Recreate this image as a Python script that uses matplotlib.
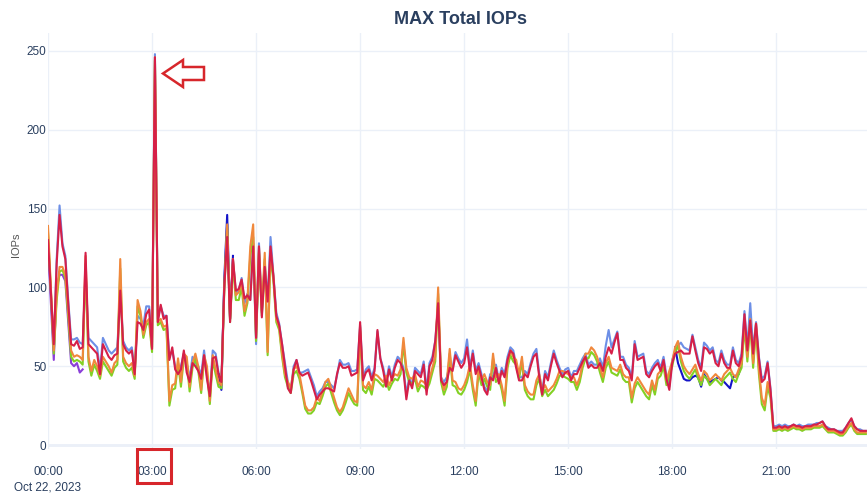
import numpy as np
import pandas as pd
import matplotlib
matplotlib.use('Agg')
import matplotlib.pyplot as plt
import matplotlib.dates as mdates
import matplotlib.ticker as ticker
from matplotlib.patches import Polygon, Rectangle

PLOTLY_TEXT = '#2a3f5f'
GRID = '#ebf0f8'

plt.rcParams.update({
    'font.family': ['Liberation Sans Narrow', 'Liberation Sans', 'DejaVu Sans'],
    'figure.facecolor': 'white',
    'axes.facecolor': 'white',
    'axes.spines.top': False,
    'axes.spines.right': False,
    'axes.spines.left': False,
    'axes.spines.bottom': False,
})

# 5 minute samples, Oct 22 2023 00:00 -> 23:35 (one row of 12 per hour)
start = pd.Timestamp('2023-10-22 00:00')
times = pd.date_range(start, periods=284, freq='5min')

iops_red = [
    130, 97, 64, 115, 146, 126, 118, 90, 64, 63, 66, 61,
    62, 122, 64, 62, 60, 58, 45, 64, 60, 56, 54, 57,
    58, 98, 64, 60, 58, 60, 45, 78, 77, 73, 83, 86,
    61, 246, 78, 89, 80, 82, 54, 62, 48, 45, 48, 60,
    46, 40, 52, 50, 47, 42, 57, 42, 31, 55, 56, 45,
    40, 100, 132, 78, 118, 98, 99, 105, 93, 95, 92, 126,
    68, 126, 81, 113, 91, 126, 107, 82, 76, 64, 50, 36,
    33, 48, 54, 46, 44, 45, 46, 41, 35, 29, 32, 34,
    36, 36, 35, 34, 45, 52, 49, 49, 50, 44, 45, 46,
    78, 41, 46, 48, 41, 47, 73, 55, 47, 37, 48, 41,
    49, 54, 52, 47, 29, 41, 36, 47, 45, 43, 51, 32,
    50, 54, 66, 90, 41, 38, 40, 49, 47, 57, 53, 49,
    52, 62, 47, 58, 45, 50, 43, 35, 32, 43, 41, 49,
    39, 47, 43, 54, 60, 58, 49, 41, 41, 45, 43, 50,
    56, 58, 43, 32, 45, 41, 50, 58, 52, 47, 43, 46,
    47, 41, 45, 45, 49, 53, 56, 49, 51, 49, 49, 52,
    47, 56, 62, 58, 65, 71, 54, 54, 49, 47, 41, 64,
    54, 55, 56, 45, 43, 47, 50, 52, 47, 54, 42, 35,
    52, 58, 59, 60, 58, 58, 58, 69, 60, 52, 47, 62,
    61, 58, 60, 52, 50, 58, 52, 49, 49, 60, 52, 50,
    56, 83, 60, 79, 58, 77, 55, 40, 42, 52, 35, 11,
    11, 12, 11, 12, 11, 12, 13, 12, 12, 11, 12, 12,
    12, 13, 13, 14, 15, 12, 10, 10, 10, 9, 8, 8,
    11, 14, 17, 12, 10, 9, 9, 9,
]

iops_orange = [
    139, 100, 60, 95, 113, 113, 108, 85, 60, 56, 57, 56,
    54, 120, 56, 47, 54, 50, 44, 56, 53, 50, 46, 52,
    54, 118, 56, 52, 50, 52, 44, 92, 85, 70, 78, 80,
    61, 246, 78, 80, 75, 76, 28, 38, 39, 55, 40, 58,
    56, 37, 52, 58, 50, 35, 57, 50, 28, 57, 48, 40,
    38, 100, 140, 80, 118, 95, 97, 103, 85, 92, 126, 140,
    68, 126, 85, 122, 59, 124, 107, 80, 75, 58, 45, 40,
    36, 48, 50, 45, 35, 25, 22, 22, 24, 30, 28, 34,
    40, 42, 36, 30, 24, 21, 24, 30, 36, 32, 28, 27,
    75, 38, 36, 40, 35, 45, 44, 42, 40, 44, 38, 42,
    45, 44, 48, 68, 49, 43, 42, 45, 37, 41, 40, 38,
    42, 49, 56, 100, 43, 35, 40, 61, 41, 40, 36, 35,
    38, 43, 51, 38, 28, 49, 41, 45, 40, 38, 58, 43,
    45, 38, 28, 52, 60, 56, 54, 45, 56, 38, 34, 32,
    32, 41, 45, 34, 38, 34, 36, 38, 42, 47, 47, 46,
    45, 43, 43, 38, 43, 52, 58, 58, 62, 60, 56, 49,
    43, 52, 56, 49, 48, 47, 51, 45, 43, 43, 30, 39,
    43, 40, 37, 34, 32, 41, 35, 45, 47, 53, 41, 47,
    53, 62, 66, 56, 50, 47, 45, 48, 51, 45, 41, 47,
    45, 41, 43, 45, 43, 41, 45, 47, 49, 45, 43, 48,
    52, 78, 56, 80, 52, 77, 48, 30, 25, 40, 33, 10,
    10, 11, 10, 11, 10, 11, 12, 11, 11, 10, 11, 11,
    11, 12, 12, 12, 13, 11, 9, 9, 9, 8, 7, 7,
    9, 12, 14, 10, 8, 8, 8, 8,
]

iops_lightblue = [
    128, 95, 62, 118, 152, 128, 120, 92, 67, 67, 68, 65,
    64, 110, 68, 66, 64, 62, 47, 68, 64, 60, 58, 60,
    62, 100, 66, 62, 60, 62, 47, 82, 80, 76, 88, 88,
    62, 248, 80, 88, 82, 82, 56, 60, 50, 48, 50, 58,
    52, 42, 56, 52, 50, 44, 60, 44, 33, 60, 58, 46,
    38, 102, 140, 80, 118, 97, 98, 106, 90, 96, 92, 128,
    64, 128, 84, 116, 92, 132, 108, 84, 77, 64, 52, 40,
    35, 50, 54, 46, 46, 47, 48, 43, 38, 31, 34, 36,
    40, 40, 38, 36, 44, 54, 51, 51, 52, 47, 47, 48,
    76, 43, 48, 50, 43, 49, 72, 55, 49, 40, 50, 43,
    51, 56, 54, 49, 32, 43, 38, 49, 47, 45, 53, 35,
    52, 56, 66, 88, 43, 40, 43, 51, 49, 59, 55, 52,
    55, 67, 49, 60, 47, 52, 45, 37, 34, 45, 43, 51,
    41, 49, 45, 56, 62, 60, 51, 43, 43, 47, 45, 52,
    58, 61, 45, 34, 47, 43, 52, 60, 54, 49, 45, 48,
    49, 43, 47, 47, 51, 55, 58, 51, 53, 51, 51, 55,
    49, 63, 73, 62, 67, 72, 56, 56, 51, 49, 43, 66,
    56, 57, 58, 47, 45, 49, 52, 54, 49, 56, 44, 37,
    54, 60, 63, 65, 62, 61, 60, 70, 62, 54, 49, 65,
    63, 60, 62, 54, 52, 60, 54, 51, 51, 62, 54, 52,
    58, 85, 62, 90, 60, 78, 56, 42, 44, 53, 36, 12,
    12, 13, 12, 13, 12, 12, 13, 12, 13, 12, 12, 13,
    13, 13, 14, 14, 15, 12, 11, 10, 10, 9, 9, 9,
    11, 14, 16, 12, 10, 10, 9, 9,
]

iops_green = [
    135, 98, 58, 92, 110, 111, 106, 82, 56, 53, 54, 53,
    51, 115, 53, 44, 51, 47, 42, 53, 50, 47, 44, 49,
    51, 112, 53, 49, 47, 49, 42, 88, 82, 68, 76, 78,
    59, 244, 76, 78, 73, 74, 25, 35, 36, 52, 37, 55,
    53, 34, 49, 55, 47, 33, 54, 47, 26, 54, 45, 37,
    36, 98, 138, 78, 115, 92, 92, 100, 82, 90, 120, 132,
    66, 122, 82, 118, 57, 120, 104, 78, 73, 56, 43, 37,
    33, 45, 47, 42, 33, 23, 20, 20, 22, 27, 26, 31,
    37, 39, 33, 27, 22, 19, 22, 27, 33, 29, 26, 25,
    72, 35, 33, 37, 32, 42, 41, 39, 37, 41, 35, 39,
    42, 41, 45, 64, 46, 40, 39, 42, 34, 38, 37, 35,
    39, 46, 53, 96, 40, 32, 37, 58, 38, 37, 33, 32,
    35, 40, 48, 35, 25, 46, 38, 42, 37, 35, 55, 40,
    42, 35, 25, 49, 57, 53, 51, 42, 53, 35, 31, 29,
    29, 38, 42, 31, 35, 31, 33, 35, 39, 44, 44, 43,
    42, 40, 40, 35, 40, 49, 55, 55, 59, 57, 53, 46,
    40, 49, 53, 46, 45, 44, 48, 42, 40, 40, 27, 36,
    40, 37, 34, 31, 29, 38, 32, 42, 44, 50, 38, 44,
    50, 59, 63, 53, 47, 44, 42, 45, 48, 42, 38, 44,
    42, 38, 40, 42, 40, 38, 42, 44, 46, 42, 40, 45,
    49, 75, 53, 77, 49, 74, 45, 26, 22, 37, 30, 9,
    9, 10, 9, 10, 9, 10, 11, 10, 10, 9, 10, 10,
    10, 11, 11, 11, 12, 10, 8, 8, 8, 7, 6, 6,
    8, 11, 13, 9, 7, 7, 7, 7,
]

# partial traces that only show up in a few places
purple_times = pd.date_range(start, periods=13, freq='5min')
iops_purple = [128, 90, 54, 100, 108, 108, 104, 78, 52, 50, 52, 46, 48]

navy_times_a = pd.date_range('2023-10-22 04:55', periods=6, freq='5min')
iops_navy_a = [45, 35, 105, 146, 80, 120]
navy_times_b = pd.date_range('2023-10-22 18:05', periods=24, freq='5min')
iops_navy_b = [62, 52, 47, 42, 41, 41, 43, 44, 43, 37, 45, 42,
               40, 41, 42, 43, 41, 40, 38, 36, 43, 44, 45, 52]

series = [
    (times, iops_lightblue, '#6d8fe6'),
    (purple_times, iops_purple, '#8b3fd8'),
    (navy_times_a, iops_navy_a, '#1414c8'),
    (navy_times_b, iops_navy_b, '#1414c8'),
    (times, iops_green, '#82d124'),
    (times, iops_orange, '#f0883c'),
    (times, iops_red, '#d61f48'),
]

W, H = 867, 497
fig = plt.figure(figsize=(W / 100, H / 100), dpi=100)
ax = fig.add_axes([48 / W, 1 - 449 / H, (W - 48) / W, (449 - 33) / H])

for t, v, c in series:
    ax.plot(t, v, color=c, lw=1.5, solid_joinstyle='round')

ax.set_xlim(start, start + pd.Timedelta(minutes=1417))
ax.set_ylim(-2.5, 261.4)
ax.set_yticks([0, 50, 100, 150, 200, 250])
ax.grid(True, color=GRID, lw=1)
ax.set_axisbelow(True)
ax.axhline(0, color=GRID, lw=2, zorder=0)

ax.xaxis.set_major_locator(mdates.HourLocator(byhour=range(0, 24, 3)))


def fmt_time(x, pos):
    d = mdates.num2date(x)
    if d.hour == 0:
        return d.strftime('%H:%M') + '\nOct 22, 2023'
    return d.strftime('%H:%M')


ax.xaxis.set_major_formatter(ticker.FuncFormatter(fmt_time))
ax.tick_params(axis='both', length=0, labelsize=8.5, labelcolor=PLOTLY_TEXT)
ax.tick_params(axis='x', pad=12)
ax.tick_params(axis='y', pad=1)
for lbl in ax.get_xticklabels():
    lbl.set_linespacing(1.4)

fig.text(461 / W, 1 - 20 / H, 'MAX Total IOPs', ha='center', va='center',
         fontsize=13, fontweight='bold', color=PLOTLY_TEXT)
fig.text(16 / W, 1 - 245 / H, 'IOPs', rotation=90, ha='center', va='center',
         fontsize=8, color='#555555')

# red call-outs: hollow arrow at the spike, box round the 03:00 tick
arrow_px = [(163, 73.5), (183, 60), (183, 67), (204, 67), (204, 80), (183, 80), (183, 87)]
arrow = [(x / W, 1 - y / H) for x, y in arrow_px]
fig.patches.append(Polygon(arrow, closed=True, fill=False, edgecolor='#d7262b',
                           lw=1.8, transform=fig.transFigure, figure=fig))
fig.patches.append(Rectangle((137 / W, 1 - 483 / H), 34 / W, 34 / H, fill=False,
                             edgecolor='#d7262b', lw=2.2, transform=fig.transFigure, figure=fig))

fig.savefig('out.png', dpi=100)
